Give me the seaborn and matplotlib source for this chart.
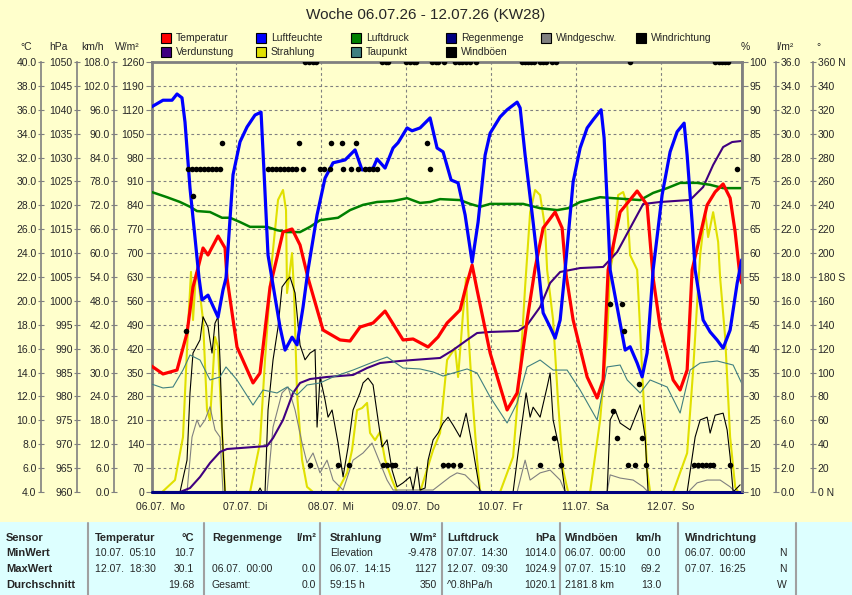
import numpy as np
import pandas as pd
import seaborn as sns
import matplotlib.pyplot as plt
from matplotlib.patches import Rectangle
from matplotlib.ticker import FuncFormatter

sns.set_style('white')
plt.rcParams['font.family'] = ['Liberation Sans', 'DejaVu Sans']

BG = '#FFFFCC'
TABLE_BG = '#DDFFFF'
GRAY = '#808080'

# ---- data (hours since 06.07. 00:00) ----
day_labels = ['06.07.  Mo', '07.07.  Di', '08.07.  Mi', '09.07.  Do', '10.07.  Fr', '11.07.  Sa', '12.07.  So']
day_hours = [0, 24, 48, 72, 96, 120, 144]

temp_h = [0.0, 3.25, 7.21, 10.04, 11.73, 13.14, 14.56, 15.97, 18.80, 20.78, 21.34, 24.17, 28.69, 30.67, 33.50,
          37.17, 39.72, 41.98, 44.24, 48.48, 53.29, 56.11, 58.94, 62.62, 66.01, 71.10, 73.93, 78.17, 80.99,
          83.54, 85.24, 87.21, 88.63, 90.61, 92.02, 95.70, 100.50, 103.33, 106.16, 108.42, 110.68, 114.07,
          116.05, 117.18, 119.16, 123.12, 125.94, 127.64, 129.05, 132.44, 137.25, 140.07, 141.77, 143.75,
          147.42, 149.40, 151.38, 152.79, 157.03, 159.29, 161.55, 163.53, 164.95, 166.36, 166.8]
temp_c = [14.55, 13.88, 14.21, 17.31, 21.16, 22.75, 24.43, 23.84, 25.43, 24.43, 21.92, 16.14, 13.13, 13.96, 21.16,
          25.77, 26.02, 24.68, 21.92, 17.56, 16.73, 16.64, 17.81, 18.15, 19.15, 16.73, 16.81, 16.14, 16.98,
          18.15, 18.65, 19.24, 20.91, 23.00, 20.91, 15.64, 10.87, 12.29, 18.40, 22.75, 26.10, 27.44,
          26.10, 22.17, 18.40, 13.63, 11.87, 13.38, 22.59, 27.44, 29.20, 28.03, 21.92, 17.81,
          13.38, 12.54, 14.21, 22.59, 28.03, 29.12, 29.79, 28.61, 25.77, 21.92, 21.5]

hum_h = [0.0, 3.25, 5.80, 7.21, 8.62, 9.47, 10.88, 12.30, 13.43, 14.28, 15.97, 18.80, 20.21, 21.06, 23.04, 25.02,
         27.00, 29.26, 30.96, 31.80, 32.93, 36.33, 37.74, 39.72, 41.13, 42.83, 44.24, 46.79, 49.05, 51.31,
         54.70, 57.53, 59.51, 62.62, 63.75, 66.01, 68.27, 69.68, 72.23, 73.64, 75.90, 78.73, 80.71, 82.40,
         84.67, 86.64, 88.63, 90.61, 92.30, 94.28, 95.70, 98.52, 100.50, 103.33, 104.18, 105.59, 107.85,
         109.55, 110.68, 112.66, 114.07, 115.49, 116.90, 119.16, 121.14, 123.12, 124.81, 127.07, 127.92,
         129.05, 129.62, 131.60, 133.86, 135.27, 137.25, 138.66, 140.07, 141.77, 144.31, 146.57, 148.55,
         150.53, 151.38, 152.79, 153.64, 155.90, 157.88, 159.86, 161.55, 163.53, 165.52, 166.8]
hum_pct = [90.6, 92.0, 92.0, 93.3, 92.5, 87.4, 73.6, 63.2, 54.8, 50.2, 51.2, 46.6, 52.3, 54.8, 76.4, 83.3,
           86.4, 88.9, 89.5, 77.0, 59.6, 44.5, 39.7, 42.4, 40.8, 48.7, 56.5, 68.0, 75.7, 78.9,
           79.5, 81.6, 77.4, 77.8, 79.7, 77.8, 82.0, 83.1, 86.2, 85.6, 86.2, 88.3, 82.0, 81.2,
           75.3, 74.7, 68.0, 58.1, 66.5, 80.5, 85.1, 88.5, 90.0, 91.6, 90.4, 80.5, 66.5,
           55.4, 47.5, 44.5, 42.2, 46.0, 56.5, 74.9, 82.0, 86.2, 87.9, 90.0, 84.1,
           66.5, 56.5, 48.7, 39.7, 40.4, 37.0, 34.1, 39.1, 56.5, 72.2, 81.2, 85.4,
           87.2, 80.5, 66.5, 56.5, 46.0, 43.5, 41.8, 40.1, 43.9, 53.7, 58.6]

press_h = [0.0, 4.38, 8.06, 10.88, 12.86, 16.54, 19.93, 22.19, 25.02, 27.85, 32.65, 35.48, 38.31, 41.98, 44.81,
           47.64, 52.72, 56.11, 59.79, 63.75, 68.27, 72.23, 75.90, 78.73, 81.56, 87.21, 90.04, 92.87, 95.70,
           105.03, 109.83, 114.64, 117.74, 121.14, 126.79, 130.47, 134.43, 138.10, 141.77, 145.73, 149.40,
           154.20, 157.88, 161.55, 166.8]
press_hpa = [1022.8, 1021.7, 1020.7, 1019.7, 1018.8, 1018.6, 1017.4, 1017.4, 1016.5, 1015.5, 1015.5, 1014.8,
             1014.4, 1014.4, 1015.5, 1016.9, 1017.4, 1019.0, 1020.1, 1020.7, 1020.9, 1021.5, 1020.5, 1020.7,
             1021.3, 1021.1, 1020.3, 1019.7, 1020.3, 1020.3, 1019.4, 1019.0, 1019.4, 1020.7, 1021.7, 1021.5,
             1021.3, 1021.1, 1022.6, 1023.6, 1024.7, 1024.7, 1024.3, 1023.6, 1023.6]

dew_h = [0.0, 3.25, 6.08, 8.90, 10.88, 13.71, 16.54, 19.36, 21.06, 24.17, 28.69, 31.52, 35.48, 38.31, 41.13,
         43.96, 47.64, 51.31, 56.96, 62.62, 66.58, 71.10, 75.90, 79.58, 82.40, 85.24, 89.19, 92.02, 95.70,
         100.50, 103.33, 106.16, 109.83, 113.50, 117.46, 121.14, 125.94, 128.77, 132.44, 134.43, 138.10,
         140.92, 145.73, 149.40, 152.23, 155.06, 159.86, 164.38, 166.8]
dew_c = [13.04, 12.71, 12.79, 14.21, 15.47, 15.05, 13.38, 13.63, 14.47, 13.38, 11.28, 12.54, 12.29, 12.79, 12.12,
         12.96, 13.13, 13.63, 14.21, 14.88, 15.30, 14.38, 14.30, 14.05, 13.71, 13.96, 14.30, 13.96, 11.95,
         9.78, 11.45, 14.47, 15.05, 14.21, 14.21, 12.54, 10.03, 14.47, 14.63, 13.38, 12.29,
         13.38, 12.79, 10.61, 14.21, 14.80, 14.97, 14.63, 13.1]

evap_h = [0.0, 8.06, 10.88, 13.71, 16.54, 19.36, 21.34, 25.02, 32.65, 34.35, 37.17, 40.00, 41.98, 44.81, 49.61,
          56.96, 60.92, 64.59, 70.25, 77.88, 81.56, 85.24, 89.19, 92.02, 95.70, 103.61, 106.16, 109.83,
          112.66, 115.49, 121.14, 127.64, 131.60, 135.27, 138.95, 143.75, 152.23, 155.90, 158.73, 161.55,
          164.10, 166.8]
evap_l = [0.0, 0.0, 0.33, 1.26, 2.43, 3.35, 3.60, 3.68, 3.85, 4.52, 6.03, 8.29, 9.13, 9.46, 9.63,
          9.80, 10.38, 10.80, 10.97, 11.14, 11.22, 11.89, 12.73, 13.31, 13.40, 13.48, 13.98, 15.49,
          17.50, 18.42, 18.75, 18.84, 20.09, 22.10, 24.11, 24.28, 24.45, 25.53, 27.38, 28.88,
          29.30, 29.39]

rad_h = [0.0, 3.0, 6.64, 8.90, 10.32, 11.17, 11.73, 12.58, 13.14, 14.56, 15.69, 16.54, 17.95, 18.80, 19.93, 20.78,
         27.85, 30.67, 32.08, 34.06, 35.76, 37.17, 38.02, 38.30, 39.72, 40.28, 41.13, 42.55, 43.96, 45.66,
         52.44, 55.27, 56.68, 58.09, 59.51, 60.92, 61.77, 63.18, 64.59, 66.01, 67.99, 69.40,
         75.90, 79.58, 81.56, 83.54, 85.80, 86.65, 88.06, 88.91, 89.47, 90.61, 92.02, 92.87,
         98.52, 102.19, 104.18, 105.59, 107.01, 108.42, 109.83, 111.24, 111.81, 113.50, 114.92, 116.33, 117.74,
         123.96, 126.79, 128.77, 129.62, 130.47, 131.88, 133.30, 134.43, 135.27, 137.25, 140.07, 140.92,
         147.42, 151.38, 153.08, 154.21, 155.06, 156.47, 157.32, 158.73, 160.14, 160.71, 162.12, 163.53,
         164.95, 165.80, 166.8]
rad_w = [0, 0, 35, 161, 483, 645, 504, 642, 630, 504, 240, 211, 454, 425, 182, 0,
         0, 144, 387, 680, 856, 885, 826, 583, 700, 583, 290, 94, 15, 0,
         0, 56, 123, 240, 246, 261, 173, 152, 176, 94, 35, 0,
         0, 123, 173, 387, 422, 337, 525, 627, 483, 290, 94, 0,
         0, 103, 357, 601, 820, 885, 870, 774, 651, 504, 261, 64, 0,
         0, 211, 454, 651, 694, 870, 879, 841, 694, 651, 64, 0,
         0, 114, 357, 554, 694, 820, 747, 820, 733, 627, 454, 161,
         15, 0, 0]

gust_h = [0.0, 8.06, 10.04, 10.88, 11.73, 13.71, 14.56, 15.97, 17.10, 17.95, 18.80, 19.36, 19.93, 20.78,
          30.11, 30.67, 31.24, 32.09, 32.93, 34.35, 35.76, 36.89, 38.30, 39.15, 40.57, 41.98, 43.39, 44.81,
          46.22, 46.79, 47.64, 49.05, 49.90, 51.03, 52.72, 54.14, 55.55, 56.96, 58.94, 59.79, 61.20, 62.62,
          64.03, 65.16, 66.57, 67.99, 69.40, 71.10, 73.08, 73.93, 75.06, 75.90, 77.32, 78.17, 79.58, 80.99,
          82.40, 83.82, 85.24, 87.21, 88.91, 90.89, 92.87,
          102.19, 104.17, 105.87, 107.00, 107.85, 109.83, 111.81, 112.66, 113.50, 114.92, 116.05, 116.90,
          128.77, 129.62, 131.04, 132.45, 135.27, 136.68, 138.10, 139.51, 140.35,
          151.38, 153.64, 155.06, 157.03, 157.88, 159.29, 161.55, 162.68, 163.53, 164.38, 166.36]
gust_kmh = [0, 0, 8.0, 24.9, 34.9, 38.2, 44.0, 41.4, 34.9, 42.4, 44.0, 33.2, 16.3, 0,
            0, 1.0, 0, 0, 20.6, 33.2, 41.4, 51.5, 53.2, 54.0, 50.0, 36.9, 33.2, 34.9,
            35.7, 16.3, 28.9, 23.1, 18.8, 20.6, 12.3, 3.8, 11.3, 20.6, 24.9, 27.4, 28.6, 26.9,
            18.1, 11.3, 13.1, 5.5, 1.3, 2.3, 3.8, 0.5, 6.3, 0.5, 1.0, 8.0, 13.1, 14.8,
            17.3, 18.8, 16.8, 13.8, 19.8, 10.5, 0,
            0, 13.8, 24.9, 18.8, 21.3, 18.8, 26.4, 29.9, 18.1, 12.3, 5.5, 0,
            0, 18.1, 20.6, 17.3, 15.6, 18.8, 21.9, 13.8, 0,
            0, 13.8, 18.1, 18.8, 14.8, 19.3, 19.8, 15.6, 8.8, 0, 1.8]

wind_h = [0.0, 10.04, 11.45, 12.86, 13.71, 15.12, 16.54, 17.95, 19.36, 20.21,
          32.65, 34.35, 36.89, 38.59, 40.57, 42.55, 43.96, 45.65, 47.63, 49.61, 51.31, 54.14, 56.96, 59.79,
          62.33, 64.59, 66.57, 68.27, 79.58, 84.38, 86.36, 88.63, 90.89, 93.43,
          103.33, 105.59, 107.00, 109.83, 112.66, 115.49, 116.90,
          128.77, 129.62, 132.45, 136.12, 138.95, 140.35,
          151.66, 154.21, 157.03, 160.71, 163.53, 164.95, 166.8]
wind_kmh = [0, 0, 13.8, 18.1, 16.3, 18.1, 21.4, 15.6, 13.8, 0,
            0, 16.3, 24.9, 26.4, 20.6, 12.3, 7.3, 9.8, 4.8, 8.0, 3.0, 0.5, 8.0, 9.8,
            12.3, 7.3, 3.0, 0.5, 0.5, 3.8, 4.8, 4.3, 2.3, 0,
            0, 8.0, 3.0, 4.8, 5.5, 3.0, 0,
            0, 4.3, 3.5, 3.0, 1.3, 0,
            0, 2.3, 3.0, 3.0, 1.3, 0, 0]

rain_h = [0.0, 166.8]
rain_l = [0.0, 0.0]

dir_n_h = [43.39, 44.5, 45.6, 46.5, 65.16, 66.3, 66.86, 71.95, 73.08, 74.2, 74.77, 79.30, 80.4, 80.99, 82.69,
           85.80, 86.9, 87.78, 89.0, 90.04, 91.74, 104.74, 105.6, 106.44, 107.3, 108.14, 109.83, 110.7,
           111.53, 113.22, 114.35, 135.27, 159.29, 160.3, 161.27, 162.1, 162.96]
dir_w_h = [10.32, 11.45, 12.58, 13.71, 14.84, 15.97, 17.10, 18.23, 19.36, 32.93, 34.06, 35.19, 36.33, 37.46,
           38.59, 39.72, 40.85, 42.83, 47.63, 48.76, 50.46, 54.14, 56.40, 58.38, 60.36, 61.49, 62.62, 63.75,
           78.73, 165.52]
dir_wnw_h = [19.93, 41.70, 50.74, 53.85, 57.81, 77.88]
dir_wsw_h = [11.73]
dir_se_h = [9.75, 133.58]
dir_sse_h = [129.62, 133.01]
dir_e_h = [137.82]
dir_ene_h = [130.47]
dir_ne_h = [113.78, 131.60, 138.66]
dir_nne_h = [44.81, 52.72, 55.83, 65.44, 66.57, 67.99, 68.84, 82.40, 83.82, 85.24, 87.21, 109.83, 115.77,
             134.71, 136.68, 139.79, 153.36, 154.49, 155.62, 156.75, 157.88, 158.73, 163.53]

dir_df = pd.concat([
    pd.DataFrame({'h': dir_n_h, 'deg': 360.0}),
    pd.DataFrame({'h': dir_w_h, 'deg': 270.0}),
    pd.DataFrame({'h': dir_wnw_h, 'deg': 292.5}),
    pd.DataFrame({'h': dir_wsw_h, 'deg': 247.5}),
    pd.DataFrame({'h': dir_se_h, 'deg': 135.0}),
    pd.DataFrame({'h': dir_sse_h, 'deg': 157.5}),
    pd.DataFrame({'h': dir_e_h, 'deg': 90.0}),
    pd.DataFrame({'h': dir_ene_h, 'deg': 67.5}),
    pd.DataFrame({'h': dir_ne_h, 'deg': 45.0}),
    pd.DataFrame({'h': dir_nne_h, 'deg': 22.5}),
])

legend_names = ['Temperatur', 'Luftfeuchte', 'Luftdruck', 'Regenmenge', 'Windgeschw.', 'Windrichtung',
                'Verdunstung', 'Strahlung', 'Taupunkt', 'Windböen']
legend_colors = ['#FF0000', '#0000FF', '#008000', '#000080', '#808080', '#000000',
                 '#400080', '#E0E000', '#408080', '#000000']

# ---- figure ----
W, H = 852, 595
fig = plt.figure(figsize=(W / 100, H / 100), dpi=100, facecolor=BG)
L, R, T, B = 151.5, 741.7, 62, 492
ax = fig.add_axes([L / W, 1 - B / H, (R - L) / W, (B - T) / H])
ax.set_facecolor(BG)
XMAX = 166.8
ax.set_xlim(0, XMAX)
ax.set_ylim(0, 1260)
ax.set_xticks(day_hours)
ax.set_yticks(np.arange(0, 1261, 70))
ax.yaxis.set_major_formatter(FuncFormatter(lambda v, _: f'{v:.0f}'))
ax.tick_params(axis='x', length=0, labelbottom=False)
ax.tick_params(axis='y', direction='out', length=4.3, color=GRAY, labelsize=7.5, pad=1)
ax.grid(True, color=GRAY, linestyle=(0, (2.5, 2.5)), linewidth=0.8)
for s in ax.spines.values():
    s.set_color(GRAY)
    s.set_linewidth(2)


def side_axis(side, offset_px, lo, hi, step, fmt, direction='inout'):
    a = ax.twinx()
    a.set_ylim(lo, hi)
    a.set_xlim(0, XMAX)
    for s in a.spines.values():
        s.set_visible(False)
    sp = a.spines[side]
    sp.set_visible(True)
    sp.set_color(GRAY)
    sp.set_linewidth(1.2)
    if offset_px:
        sp.set_position(('outward', offset_px * 0.72))
    a.yaxis.set_ticks_position(side)
    a.yaxis.set_label_position(side)
    a.set_yticks(np.arange(lo, hi + step / 2, step))
    a.yaxis.set_major_formatter(FuncFormatter(fmt))
    a.tick_params(axis='y', direction=direction, length=4.3, color=GRAY, labelsize=7.5, pad=1)
    a.grid(False)
    return a


def deg_fmt(v, _):
    if v in (0, 360):
        return f'{v:.0f} N'
    if v == 180:
        return f'{v:.0f} S'
    return f'{v:.0f}'


ax_w = side_axis('left', 37.5, 0, 108, 6, lambda v, _: f'{v:.1f}')
ax_r = side_axis('right', 34.5, 0, 36, 2, lambda v, _: f'{v:.1f}')
ax_p = side_axis('left', 74.5, 960, 1050, 5, lambda v, _: f'{v:.0f}')
ax_c = side_axis('left', 110.5, 4, 40, 2, lambda v, _: f'{v:.1f}')
ax_h = side_axis('right', 0, 10, 100, 5, lambda v, _: f'{v:.0f}', direction='out')
ax_d = side_axis('right', 71.5, 0, 360, 20, deg_fmt)

# series
sns.lineplot(x=rad_h, y=rad_w, ax=ax, color='#E0E000', linewidth=1.5, estimator=None, sort=False)
sns.lineplot(x=wind_h, y=wind_kmh, ax=ax_w, color='#808080', linewidth=0.8, estimator=None, sort=False)
sns.lineplot(x=gust_h, y=gust_kmh, ax=ax_w, color='#000000', linewidth=0.8, estimator=None, sort=False)
sns.lineplot(x=evap_h, y=evap_l, ax=ax_r, color='#400080', linewidth=1.5, estimator=None, sort=False)
sns.lineplot(x=rain_h, y=rain_l, ax=ax_r, color='#000080', linewidth=2.2, estimator=None, sort=False,
             clip_on=False)
sns.lineplot(x=press_h, y=press_hpa, ax=ax_p, color='#008000', linewidth=1.8, estimator=None, sort=False)
sns.lineplot(x=dew_h, y=dew_c, ax=ax_c, color='#408080', linewidth=0.8, estimator=None, sort=False)
sns.lineplot(x=temp_h, y=temp_c, ax=ax_c, color='#FF0000', linewidth=2.3, estimator=None, sort=False)
sns.lineplot(x=hum_h, y=hum_pct, ax=ax_h, color='#0000FF', linewidth=2.3, estimator=None, sort=False)
sns.scatterplot(data=dir_df, x='h', y='deg', ax=ax_d, color='black', s=16, linewidth=0)

for a in (ax, ax_w, ax_r, ax_p, ax_c, ax_h, ax_d):
    a.set_xlabel('')
    a.set_ylabel('')

# day labels
for h, lab in zip(day_hours, day_labels):
    ax.text(h + 2.6, -15 / (B - T), lab, transform=ax.get_xaxis_transform(), ha='center', va='center',
            fontsize=7.5)

# title and unit headers
fig.text(0.5, 1 - 15 / H, 'Woche 06.07.26 - 12.07.26 (KW28)', ha='center', va='center', fontsize=11)
for x, u in [(26, '°C'), (58, 'hPa'), (92, 'km/h'), (127, 'W/m²'), (745, '%'), (785, 'l/m²'), (818, '°')]:
    fig.text(x / W, 1 - 47 / H, u, ha='center', va='center', fontsize=7.5)

# legend
leg_x = [161, 256, 351, 446, 541, 636]
for i, (name, col) in enumerate(zip(legend_names, legend_colors)):
    row, c = (0, i) if i < 6 else (1, i - 6)
    yc = 38 + row * 14
    x0 = leg_x[c]
    fig.add_artist(Rectangle((x0 / W, 1 - (yc + 5) / H), 10 / W, 10 / H, transform=fig.transFigure,
                             facecolor=col, edgecolor='black', linewidth=0.8))
    fig.text((x0 + 15) / W, 1 - yc / H, name, ha='left', va='center', fontsize=7.5)

# summary table
tab = fig.add_axes([0, 0, 1, 73 / H])
tab.set_xlim(0, W)
tab.set_ylim(H, 522)
tab.set_facecolor(TABLE_BG)
tab.set_xticks([])
tab.set_yticks([])
for s in tab.spines.values():
    s.set_visible(False)

row_names = ['Sensor', 'MinWert', 'MaxWert', 'Durchschnitt']
col_titles = ['Temperatur', 'Regenmenge', 'Strahlung', 'Luftdruck', 'Windböen', 'Windrichtung']
col_units = ['°C', 'l/m²', 'W/m²', 'hPa', 'km/h', '']
col_text = [['10.07.  05:10', '12.07.  18:30', ''],
            ['', '06.07.  00:00', 'Gesamt:'],
            ['Elevation', '06.07.  14:15', '59:15 h'],
            ['07.07.  14:30', '12.07.  09:30', '^0.8hPa/h'],
            ['06.07.  00:00', '07.07.  15:10', '2181.8 km'],
            ['06.07.  00:00', '07.07.  16:25', '']]
col_vals = [['10.7', '30.1', '19.68'],
            ['', '0.0', '0.0'],
            ['-9.478', '1127', '350'],
            ['1014.0', '1024.9', '1020.1'],
            ['0.0', '69.2', '13.0'],
            ['N', 'N', 'W']]

sep_x = [88, 204, 320, 442, 560, 678, 796]
col_left = [95, 212, 330, 447, 565, 685]
col_right = [194, 316, 437, 556, 661, 787]
row_y = [538, 553, 569, 585]

for x in sep_x:
    tab.plot([x, x], [523, H], color='#A0A0A0', linewidth=1.5)
for y, name in zip(row_y, row_names):
    tab.text(6, y, name, ha='left', va='center', fontsize=8, fontweight='bold')
for i in range(6):
    tab.text(col_left[i], row_y[0], col_titles[i], ha='left', va='center', fontsize=8, fontweight='bold')
    tab.text(col_right[i], row_y[0], col_units[i], ha='right', va='center', fontsize=8, fontweight='bold')
    for r in range(3):
        tab.text(col_left[i], row_y[r + 1], col_text[i][r], ha='left', va='center', fontsize=7.5)
        tab.text(col_right[i], row_y[r + 1], col_vals[i][r], ha='right', va='center', fontsize=7.5)

fig.savefig('out.png', dpi=100, facecolor=BG)
